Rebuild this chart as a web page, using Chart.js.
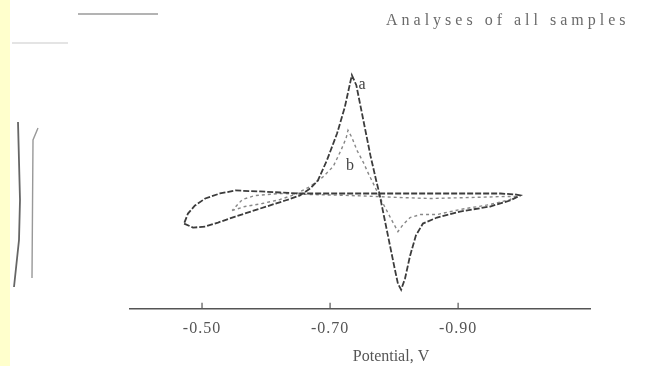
<!DOCTYPE html>
<html>
<head>
<meta charset="utf-8">
<script src="https://cdn.jsdelivr.net/npm/chart.js@4/dist/chart.umd.min.js"></script>
<style>
  html, body { margin: 0; padding: 0; background: #ffffff; }
  #wrap { width: 668px; height: 366px; }
</style>
</head>
<body>
<div id="wrap"><canvas id="c" width="668" height="366"></canvas></div>
<script>
// ---- data (potential in V, current in arbitrary units) ----
const potentialA = [-0.472,-0.486,-0.505,-0.525,-0.552,-0.591,-0.630,-0.653,-0.669,-0.681,-0.695,-0.711,-0.723,-0.734,-0.741,-0.752,-0.763,-0.772,-0.777,-0.784,-0.792,-0.800,-0.806,-0.811,-0.817,-0.825,-0.834,-0.845,-0.867,-0.903,-0.950,-0.981,-0.997,-0.989,-0.966,-0.888,-0.778,-0.653,-0.622,-0.591,-0.552,-0.528,-0.505,-0.489,-0.478,-0.472];
const currentA   = [-3.0,-3.4,-3.3,-2.9,-2.3,-1.5,-0.7,-0.2,0.5,1.3,3.3,6.0,8.6,11.8,10.8,7.3,3.8,1.3,0.0,-2.2,-4.7,-7.2,-9.0,-9.6,-8.5,-6.2,-4.2,-3.0,-2.4,-1.8,-1.3,-0.7,-0.2,-0.1,0.0,0.0,0.0,0.0,0.1,0.2,0.3,0.0,-0.5,-1.2,-2.0,-3.0];

const potentialB = [-0.547,-0.567,-0.594,-0.622,-0.645,-0.669,-0.688,-0.705,-0.717,-0.725,-0.728,-0.734,-0.742,-0.752,-0.759,-0.769,-0.777,-0.786,-0.795,-0.806,-0.814,-0.825,-0.841,-0.867,-0.903,-0.950,-0.981,-0.994,-0.973,-0.919,-0.856,-0.809,-0.731,-0.669,-0.622,-0.583,-0.563,-0.547];
const currentB   = [-1.7,-1.3,-1.0,-0.6,-0.1,0.7,1.6,2.7,4.3,5.5,6.3,5.6,4.3,3.1,2.1,0.8,-0.3,-1.4,-2.5,-3.8,-3.1,-2.4,-2.1,-2.1,-1.6,-1.1,-0.6,-0.3,-0.3,-0.4,-0.5,-0.4,-0.2,-0.1,0.0,-0.2,-0.6,-1.7];

const tickValues = [-0.50, -0.70, -0.90];
const tickLabels = ['-0.50', '-0.70', '-0.90'];
const axisTitle = 'Potential, V';

const curveNames = ['a', 'b'];
const curveLabelPotential = [-0.750, -0.731];
const curveLabelCurrent = [10.8, 2.8];

const headerText = 'Analyses of all samples';

const toPoints = (xs, ys) => xs.map((x, i) => ({ x: x, y: ys[i] }));

const SERIF = '"Liberation Serif", "Times New Roman", serif';

const decorPlugin = {
  id: 'decor',
  beforeDraw(chart) {
    const ctx = chart.ctx;
    ctx.letterSpacing = '1px';
    ctx.save();
    // yellow strip at left edge of scan
    ctx.fillStyle = '#ffffcc';
    ctx.fillRect(0, 0, 10, chart.height);
    // faint scan lines at top
    ctx.strokeStyle = '#9a9a9a';
    ctx.lineWidth = 1.5;
    ctx.beginPath(); ctx.moveTo(78, 14); ctx.lineTo(158, 14); ctx.stroke();
    ctx.strokeStyle = '#e4e4e4';
    ctx.lineWidth = 2;
    ctx.beginPath(); ctx.moveTo(12, 43); ctx.lineTo(68, 43); ctx.stroke();
    // vertical marks at left (scan remnants)
    ctx.strokeStyle = '#666';
    ctx.lineWidth = 1.8;
    ctx.beginPath(); ctx.moveTo(18, 122); ctx.lineTo(20, 200); ctx.lineTo(19, 240); ctx.lineTo(14, 287); ctx.stroke();
    ctx.strokeStyle = '#999';
    ctx.lineWidth = 1.4;
    ctx.beginPath(); ctx.moveTo(38, 128); ctx.lineTo(33, 140); ctx.lineTo(32, 278); ctx.stroke();
    // header text (faded)
    ctx.letterSpacing = '4px';
    ctx.fillStyle = '#6a6a6a';
    ctx.font = '16px ' + SERIF;
    ctx.textBaseline = 'middle';
    ctx.textAlign = 'left';
    ctx.fillText(headerText, 386, 21);
    ctx.restore();
  },
  afterDraw(chart) {
    const ctx = chart.ctx;
    const xs = chart.scales.x, ys = chart.scales.y;
    ctx.save();
    // inward tick marks
    ctx.strokeStyle = '#555';
    ctx.lineWidth = 1.2;
    tickValues.forEach(v => {
      const px = xs.getPixelForValue(v);
      ctx.beginPath();
      ctx.moveTo(px, xs.top - 6);
      ctx.lineTo(px, xs.top);
      ctx.stroke();
    });
    // axis title (placed right of centre as in the scan)
    ctx.letterSpacing = '0px';
    ctx.fillStyle = '#555';
    ctx.font = '16px ' + SERIF;
    ctx.textAlign = 'center';
    ctx.textBaseline = 'middle';
    ctx.fillText(axisTitle, 391, 357);
    // curve labels
    ctx.fillStyle = '#444';
    ctx.font = '16px ' + SERIF;
    curveNames.forEach((n, i) => {
      ctx.fillText(n, xs.getPixelForValue(curveLabelPotential[i]), ys.getPixelForValue(curveLabelCurrent[i]));
    });
    ctx.restore();
  }
};

new Chart(document.getElementById('c'), {
  type: 'scatter',
  data: {
    datasets: [
      {
        label: 'a',
        data: toPoints(potentialA, currentA),
        showLine: true,
        borderColor: '#3c3c3c',
        borderWidth: 1.8,
        borderDash: [6, 2],
        pointRadius: 0,
        tension: 0,
        fill: false
      },
      {
        label: 'b',
        data: toPoints(potentialB, currentB),
        showLine: true,
        borderColor: '#888888',
        borderWidth: 1.4,
        borderDash: [3, 3],
        pointRadius: 0,
        tension: 0,
        fill: false
      }
    ]
  },
  options: {
    responsive: false,
    animation: false,
    events: [],
    layout: { padding: { left: 130, right: 78, top: 20, bottom: 18 } },
    plugins: {
      legend: { display: false },
      tooltip: { enabled: false },
      title: { display: false }
    },
    scales: {
      x: {
        type: 'linear',
        position: 'bottom',
        reverse: true,
        min: -1.106,
        max: -0.3875,
        afterBuildTicks: (scale) => { scale.ticks = tickValues.map(v => ({ value: v })); },
        ticks: {
          autoSkip: false,
          maxRotation: 0,
          padding: 10,
          color: '#555',
          font: { family: SERIF, size: 16 },
          callback: (value) => {
            const idx = tickValues.findIndex(t => Math.abs(t - value) < 1e-6);
            return idx >= 0 ? tickLabels[idx] : '';
          }
        },
        grid: { display: false, drawTicks: false },
        border: { display: true, color: '#555', width: 1.5 },
        title: { display: false }
      },
      y: {
        type: 'linear',
        display: false,
        min: -11.5,
        max: 17.3
      }
    }
  },
  plugins: [decorPlugin]
});
</script>
</body>
</html>
